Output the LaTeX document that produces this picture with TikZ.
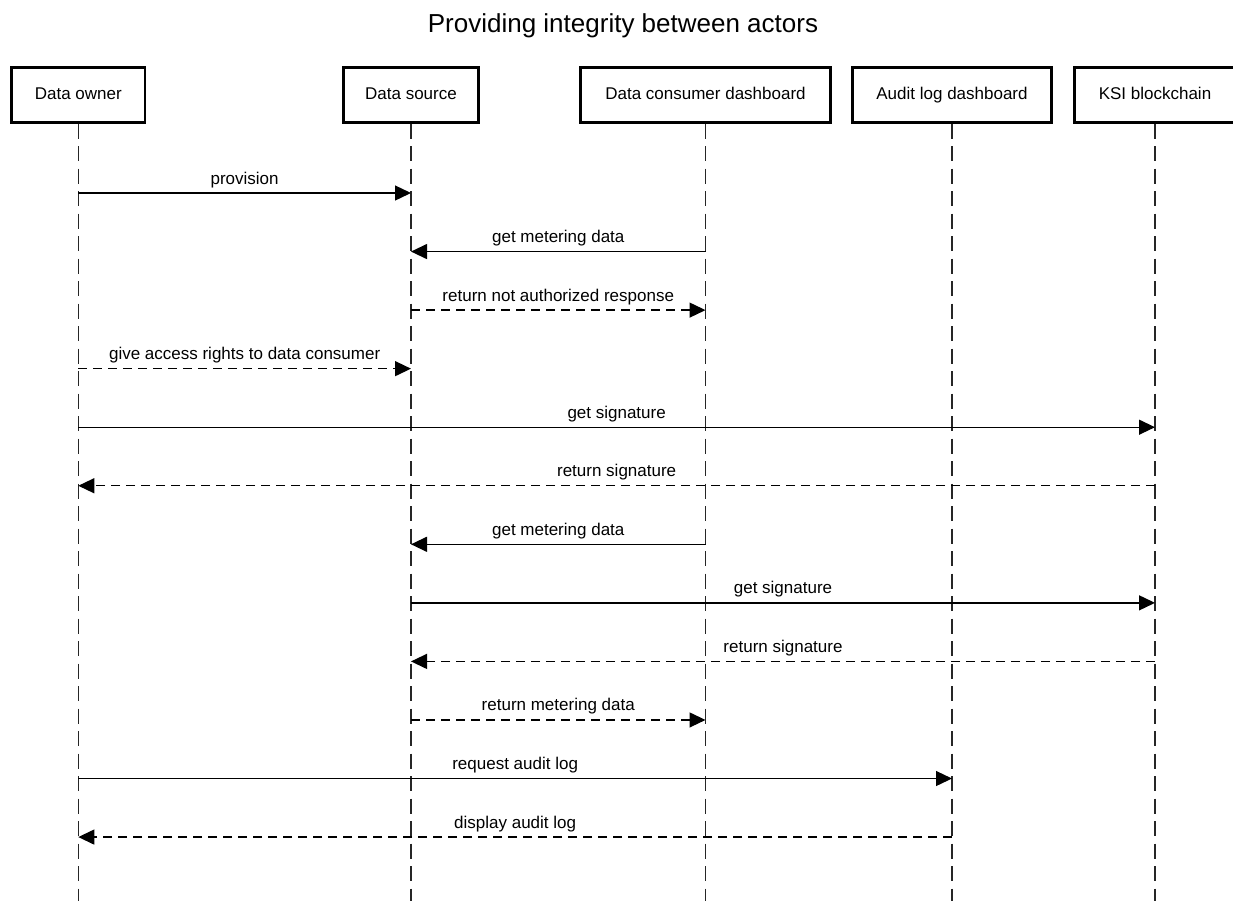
\documentclass[tikz,border=0pt]{standalone}
\usepackage{fontspec}
\setmainfont{Liberation Sans}
\usetikzlibrary{arrows.meta}
\begin{document}
\begin{tikzpicture}[x=1pt,y=-1pt,
  actor/.style={draw, line width=2.6pt, minimum height=54.6pt, inner sep=0pt,
    text height=12.2pt, text depth=3.6pt, font=\fontsize{17}{20}\selectfont},
  lifeline/.style={line width=1.3pt, draw=black!85, dash pattern=on 15pt off 7.5pt},
  msg/.style={line width=1.3pt, -{Triangle[length=16pt,width=15pt]}},
  reply/.style={msg, dash pattern=on 9pt off 6pt},
  lbl/.style={anchor=base, yshift=9pt, inner sep=0pt, font=\fontsize{17}{20}\selectfont}]
  \useasboundingbox (0,0) rectangle (1233,906);

  % title
  \node[anchor=base, inner sep=0pt, font=\fontsize{26}{30}\selectfont] (title) at (623,32)
    {Providing integrity between actors};

  % actors
  \node[actor, minimum width=133.5pt] (owner)    at (78.3,95)  {Data owner};
  \node[actor, minimum width=134.6pt] (source)   at (411,95)   {Data source};
  \node[actor, minimum width=249.6pt] (consumer) at (705.5,95) {Data consumer dashboard};
  \node[actor, minimum width=198.6pt] (audit)    at (952,95)   {Audit log dashboard};
  \node[actor, minimum width=160.6pt] (ksi)      at (1155,95)  {KSI blockchain};

  % lifelines
  \coordinate (bottom) at (0,901);
  \foreach \a in {owner,source,consumer,audit,ksi}
    \draw[lifeline] (\a.south) -- (\a.south |- bottom);

  % message rows
  \foreach \i in {1,...,12}
    \coordinate (r\i) at (0,{193+58.55*(\i-1)});

  % messages
  \draw[msg]   (owner |- r1)    -- node[lbl] {provision} (source |- r1);
  \draw[msg]   (consumer |- r2) -- node[lbl] {get metering data} (source |- r2);
  \draw[reply] (source |- r3)   -- node[lbl] {return not authorized response} (consumer |- r3);
  \draw[reply] (owner |- r4)    -- node[lbl] {give access rights to data consumer} (source |- r4);
  \draw[msg]   (owner |- r5)    -- node[lbl] {get signature} (ksi |- r5);
  \draw[reply] (ksi |- r6)      -- node[lbl] {return signature} (owner |- r6);
  \draw[msg]   (consumer |- r7) -- node[lbl] {get metering data} (source |- r7);
  \draw[msg]   (source |- r8)   -- node[lbl] {get signature} (ksi |- r8);
  \draw[reply] (ksi |- r9)      -- node[lbl] {return signature} (source |- r9);
  \draw[reply] (source |- r10)  -- node[lbl] {return metering data} (consumer |- r10);
  \draw[msg]   (owner |- r11)   -- node[lbl] {request audit log} (audit |- r11);
  \draw[reply] (audit |- r12)   -- node[lbl] {display audit log} (owner |- r12);
\end{tikzpicture}
\end{document}
